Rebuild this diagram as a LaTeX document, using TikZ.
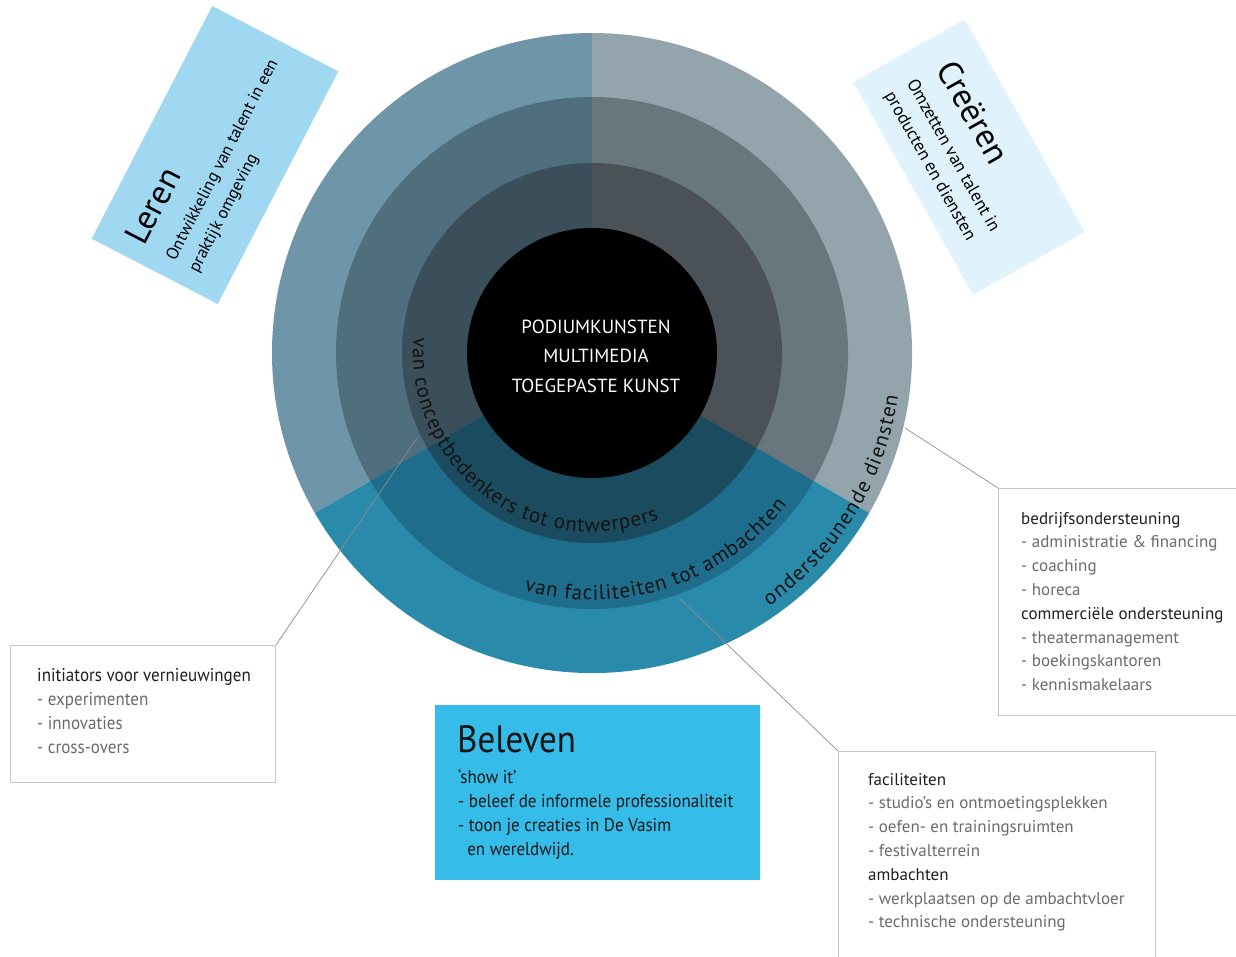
\documentclass[tikz,border=0pt]{standalone}
\usepackage{fontspec}
\setmainfont{PT Sans}
\newfontfamily\condfont[FakeStretch=0.92]{PT Sans}
\usetikzlibrary{decorations.text}
\definecolor{Lout}{HTML}{6F95A8}
\definecolor{Lmid}{HTML}{4F6E7E}
\definecolor{Linn}{HTML}{3A4F5A}
\definecolor{Rout}{HTML}{93A4AD}
\definecolor{Rmid}{HTML}{6A767D}
\definecolor{Rinn}{HTML}{4B5257}
\definecolor{Bout}{HTML}{2A8AAA}
\definecolor{Bmid}{HTML}{1F6D8C}
\definecolor{Binn}{HTML}{1A4B5F}
\definecolor{lerencol}{HTML}{A0D8F2}
\definecolor{creercol}{HTML}{E0F3FC}
\definecolor{belevcol}{HTML}{36BCE8}
\newcommand\HeadC{\color{black!88}}
\newcommand\ItemC{\color{black!58}}
\newcommand\curvefont{\fontsize{21}{21}\selectfont\color{black!92}}
\tikzset{
  conn/.style={draw=black!45, line width=0.7pt},
  infobox/.style={draw=black!22, line width=0.9pt, fill=white, anchor=north west, inner sep=0pt},
  boxline/.style={anchor=base west, inner sep=0pt, font=\fontsize{17}{20}\selectfont},
  condline/.style={anchor=base west, inner sep=0pt, font=\condfont\fontsize{18.5}{20}\selectfont},
  rotbox/.style={inner sep=0pt, draw=none},
  curved/.style={decorate, decoration={text along path, text align=fit to path, text={#1}}},
}
\begin{document}
\begin{tikzpicture}[x=1pt,y=1pt]
\clip (0,0) rectangle (1236,-956);
\fill[white] (0,0) rectangle (1236,-956);

\coordinate (c) at (592,-353);

% rings and sectors
\foreach \r/\a/\b/\col in {320/90/210/Lout, 320/-30/90/Rout, 320/210/330/Bout,
                           256/90/210/Lmid, 256/-30/90/Rmid, 256/210/330/Bmid,
                           190/90/210/Linn, 190/-30/90/Rinn, 190/210/330/Binn}
  \fill[\col] (c) -- ++(\a:\r) arc[start angle=\a, end angle=\b, radius=\r] -- cycle;

\node[circle, fill=black, minimum size=250pt, inner sep=0pt] (core) at (c) {};
\node[anchor=base, inner sep=0pt, text=white, font=\fontsize{19}{19}\selectfont] (core1) at (596,-333) {PODIUMKUNSTEN};
\node[anchor=base, inner sep=0pt, text=white, font=\fontsize{19}{19}\selectfont] (core2) at (596,-362) {MULTIMEDIA};
\node[anchor=base, inner sep=0pt, text=white, font=\fontsize{19}{19}\selectfont] (core3) at (596,-392) {TOEGEPASTE KUNST};

% curved texts
\path[curved={|\curvefont|van conceptbedenkers tot ontwerpers}]
  ({592+179*cos(175)},{-353+179*sin(175)}) arc[start angle=175, end angle=292, radius=179];
\path[curved={|\curvefont|van faciliteiten tot ambachten}]
  ({592+247*cos(254)},{-353+247*sin(254)}) arc[start angle=254, end angle=322, radius=247];
\path[curved={|\curvefont|ondersteunende diensten}]
  ({592+309*cos(305)},{-353+309*sin(305)}) arc[start angle=305, end angle=352, radius=309];

% Leren
\node[rotbox, fill=lerencol, minimum width=262pt, minimum height=142pt, rotate=62.6] (lerenbox) at (215,-155) {};
\begin{scope}[shift={(215,-155)}, rotate=62.6, transform shape]
  \node[anchor=west, inner sep=0pt, font=\fontsize{34}{34}\selectfont] (lerenT) at (-114,32) {Leren};
  \node[anchor=west, inner sep=0pt, font=\fontsize{17}{17}\selectfont] (lerenA) at (-113,-9.5) {Ontwikkeling van talent in een};
  \node[anchor=west, inner sep=0pt, font=\fontsize{17}{17}\selectfont] (lerenB) at (-113,-35) {praktijk omgeving};
\end{scope}

% Creeren
\node[rotbox, fill=creercol, minimum width=244pt, minimum height=128pt, rotate=-60.6] (creerbox) at (969,-157) {};
\begin{scope}[shift={(969,-157)}, rotate=-60.6, transform shape]
  \node[anchor=west, inner sep=0pt, font=\fontsize{34}{34}\selectfont] (creerT) at (-93,26) {Creëren};
  \node[anchor=west, inner sep=0pt, font=\fontsize{17.5}{17.5}\selectfont] (creerA) at (-95,-12) {Omzetten van talent in};
  \node[anchor=west, inner sep=0pt, font=\fontsize{17.5}{17.5}\selectfont] (creerB) at (-95,-39) {producten en diensten};
\end{scope}

% info boxes
\node[infobox, minimum width=265pt, minimum height=137pt] (initbox) at (10,-645) {};
\node[infobox, minimum width=250pt, minimum height=227pt] (bedrbox) at (998,-488) {};
\node[infobox, minimum width=317pt, minimum height=230pt] (facbox) at (838,-751) {};

\coordinate (cA) at (417,-438);
\coordinate (cB) at (905,-428);
\coordinate (cC) at (679,-598);
\draw[conn] (cA) -- (initbox.north east);
\draw[conn] (cB) -- (bedrbox.north west);
\draw[conn] (cC) -- (facbox.north west);

\foreach \t [count=\i from 0] in {{\HeadC initiators voor vernieuwingen},{\ItemC - experimenten},{\ItemC - innovaties},{\ItemC - cross-overs}}
  \node[condline] (init\i) at (37,{-681-24*\i}) {\t};

\foreach \t [count=\i from 0] in {{\HeadC bedrijfsondersteuning},{\ItemC - administratie \& financing},{\ItemC - coaching},{\ItemC - horeca},{\HeadC commerciële ondersteuning},{\ItemC - theatermanagement},{\ItemC - boekingskantoren},{\ItemC - kennismakelaars}}
  \node[boxline] (bedr\i) at (1021,{-524-23.8*\i}) {\t};

\foreach \t [count=\i from 0] in {{\HeadC faciliteiten},{\ItemC - studio’s en ontmoetingsplekken},{\ItemC - oefen- en trainingsruimten},{\ItemC - festivalterrein},{\HeadC ambachten},{\ItemC - werkplaatsen op de ambachtvloer},{\ItemC - technische ondersteuning}}
  \node[boxline] (fac\i) at (868,{-785-23.8*\i}) {\t};

% Beleven
\node[rotbox, fill=belevcol, minimum width=325pt, minimum height=175pt, anchor=north west] (belevbox) at (435,-705) {};
\node[anchor=base west, inner sep=0pt, font=\condfont\fontsize{38}{38}\selectfont, text=black!92] (belevT) at (457,-752) {Beleven};
\foreach \t [count=\i from 0] in {{‘show it’},{- beleef de informele professionaliteit},{- toon je creaties in De Vasim},{\ \ en wereldwijd.}}
  \node[condline, text=black!90] (belev\i) at (458,{-783-24*\i}) {\t};
\end{tikzpicture}
\end{document}
